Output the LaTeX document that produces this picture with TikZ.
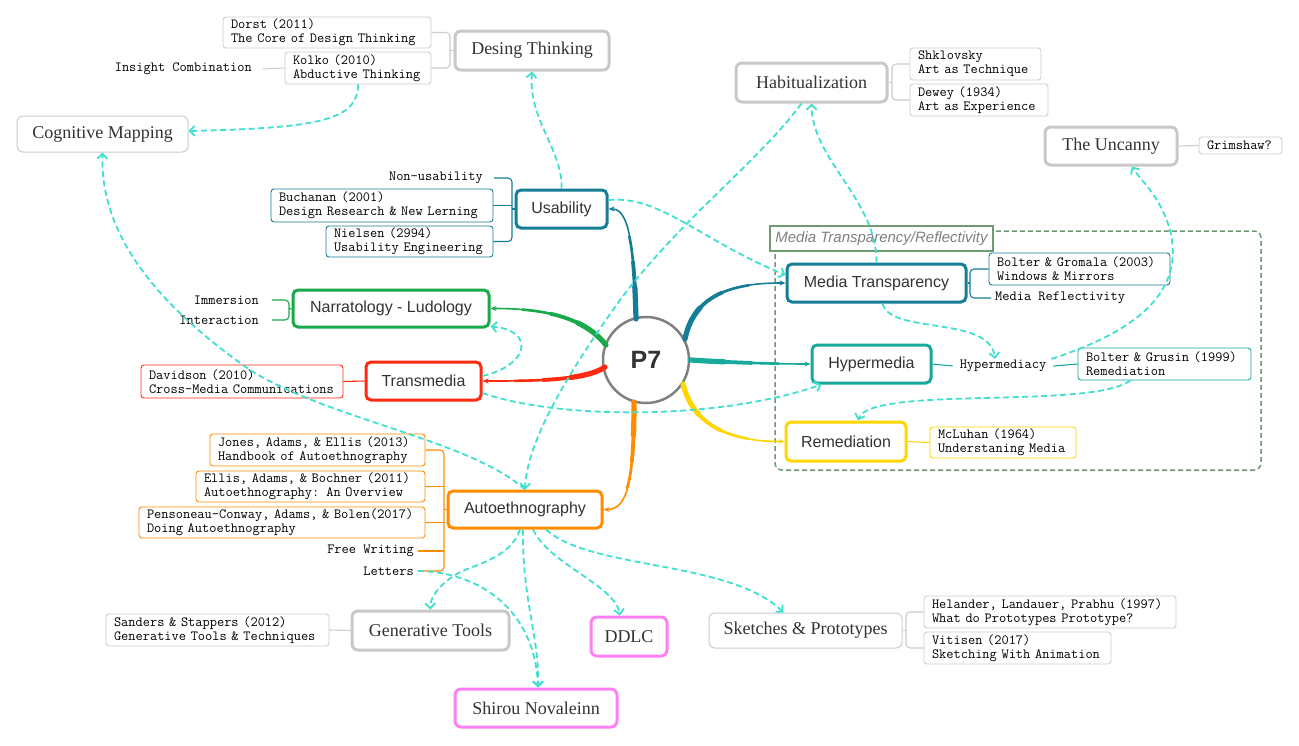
\documentclass[tikz,border=0pt]{standalone}
\usepackage{fontspec}
\setmainfont{Liberation Serif}
\newfontfamily\sansf{Liberation Sans}
\usetikzlibrary{arrows.meta}
\definecolor{tealc}{HTML}{167D96}
\definecolor{hypc}{HTML}{17A99B}
\definecolor{greenc}{HTML}{17A94A}
\definecolor{redc}{HTML}{FF2A0F}
\definecolor{orangec}{HTML}{FF8C00}
\definecolor{yellowc}{HTML}{FFD600}
\definecolor{magc}{HTML}{FF80F4}
\definecolor{gthick}{HTML}{C8C8C8}
\definecolor{gline}{HTML}{CCCCCC}
\definecolor{cyanc}{HTML}{40E0D0}
\definecolor{grpc}{HTML}{6E9A74}
\definecolor{p7c}{HTML}{808080}
\definecolor{txtc}{HTML}{333333}
\newcommand\fmono{\ttfamily\fontsize{14}{14}\selectfont}
\newcommand\fserif{\rmfamily\fontsize{18}{20}\selectfont}
\newcommand\fsans{\sansf\fontsize{16}{18}\selectfont}
\newcommand\twol[2]{\mbox{#1}\\\mbox{#2}}
% tapered connector: colour, path length, path
\newcommand\taper[3]{%
  \draw[#1, line width=1.6pt, -{Stealth[length=6pt,width=5pt]}] #3;
  \pgfmathsetmacro\tpa{0.72*#2}\pgfmathsetmacro\tpb{0.5*#2}\pgfmathsetmacro\tpc{0.28*#2}%
  \draw[#1, line width=2.6pt, line cap=round, dash pattern=on \tpa pt off 3000pt] #3;
  \draw[#1, line width=3.8pt, line cap=round, dash pattern=on \tpb pt off 3000pt] #3;
  \draw[#1, line width=5.2pt, line cap=round, dash pattern=on \tpc pt off 3000pt] #3;
}
\tikzset{
  topic/.style={draw, line width=3pt, rounded corners=5pt, fill=white, font=\fsans, text=txtc, inner sep=0pt},
  gtopic/.style={draw=gthick, line width=3pt, rounded corners=6pt, fill=white, font=\fserif, text=txtc, inner sep=0pt},
  thintopic/.style={draw=gline, line width=1pt, rounded corners=6pt, fill=white, font=\fserif, text=txtc, inner sep=0pt},
  ref/.style={draw, line width=0.9pt, rounded corners=3pt, font=\fmono, align=left, inner xsep=8pt, inner ysep=0pt, minimum height=31pt},
  lbl/.style={font=\fmono, inner sep=1pt},
  cy/.style={draw=cyanc, line width=1.8pt, dash pattern=on 6pt off 3.5pt, -{Straight Barb[length=5pt,width=10pt]}},
  brk/.style={line width=1.1pt, rounded corners=4pt},
}
\begin{document}
\begin{tikzpicture}[x=1pt,y=-1pt]
\useasboundingbox (0,0) rectangle (1299,745);
\fill[white] (0,0) rectangle (1299,745);

% group
\draw[grpc, line width=1.5pt, dash pattern=on 5pt off 3pt, rounded corners=7pt] (775,231) rectangle (1261,470);
\node[draw=grpc, line width=1.5pt, fill=white, minimum width=223pt, minimum height=25pt, inner sep=0pt,
      font=\sansf\itshape\fontsize{15}{17}\selectfont, text=p7c] (GRP) at (881.5,238.5) {Media Transparency/Reflectivity};

% central
\node[circle, draw=p7c, line width=2.5pt, minimum size=86pt, fill=white, inner sep=0pt,
      font=\sansf\bfseries\fontsize{25}{28}\selectfont, text=txtc] (P7) at (646,360) {P7};

% topics
\node[gtopic, minimum width=154pt, minimum height=39pt] (DT) at (532,50.5) {Desing Thinking};
\node[thintopic, minimum width=171pt, minimum height=36pt] (CM) at (102.5,134) {Cognitive Mapping};
\node[topic, draw=tealc, minimum width=91pt, minimum height=38pt] (U) at (561.5,209) {Usability};
\node[topic, draw=greenc, minimum width=196pt, minimum height=37pt] (N) at (391,308.5) {Narratology - Ludology};
\node[topic, draw=redc, minimum width=115pt, minimum height=38pt] (T) at (423.5,381) {Transmedia};
\node[gtopic, minimum width=151pt, minimum height=39pt] (Hab) at (811.5,82.5) {Habitualization};
\node[gtopic, minimum width=132pt, minimum height=38pt] (Unc) at (1111,146) {The Uncanny};
\node[topic, draw=tealc, minimum width=179pt, minimum height=38pt] (MT) at (876.5,283) {Media Transparency};
\node[topic, draw=hypc, minimum width=119pt, minimum height=38pt] (H) at (871.5,364) {Hypermedia};
\node[topic, draw=yellowc, minimum width=120pt, minimum height=39pt] (R) at (846,441.5) {Remediation};
\node[topic, draw=orangec, minimum width=154pt, minimum height=37pt] (A) at (525,509.5) {Autoethnography};
\node[gtopic, minimum width=157pt, minimum height=39pt] (GT) at (430.5,630.5) {Generative Tools};
\node[gtopic, draw=magc, minimum width=76pt, minimum height=39pt] (DDLC) at (629,636.5) {DDLC};
\node[gtopic, draw=magc, minimum width=162pt, minimum height=38pt] (S) at (536,708) {Shirou Novaleinn};
\node[thintopic, minimum width=193pt, minimum height=35pt] (SP) at (805.5,630.5) {Sketches \& Prototypes};

% references
\node[ref, draw=gline, text width=192pt] (Dorst) at (327,32.5) {\twol{Dorst (2011)}{The Core of Design Thinking}};
\node[ref, draw=gline, text width=130pt, minimum height=32pt] (Kolko) at (358,68) {\twol{Kolko (2010)}{Abductive Thinking}};
\node[lbl, anchor=east] (IC) at (253,69) {Insight Combination};
\node[lbl, anchor=east] (NU) at (484,178) {Non-usability};
\node[ref, draw=tealc, text width=206pt, minimum height=33pt] (Buch) at (382,205.5) {\twol{Buchanan (2001)}{Design Research \& New Lerning}};
\node[ref, draw=tealc, text width=151pt] (Niel) at (409.5,241.5) {\twol{Nielsen (2994)}{Usability Engineering}};
\node[lbl, anchor=east] (Imm) at (260,300) {Immersion};
\node[lbl, anchor=east] (Int) at (260,320) {Interaction};
\node[ref, draw=redc, text width=186pt, minimum height=33pt] (Dav) at (242,381.5) {\twol{Davidson (2010)}{Cross-Media Communications}};
\node[ref, draw=gline, text width=115pt, minimum height=32pt] (Shk) at (975.5,64) {\twol{Shklovsky}{Art as Technique}};
\node[ref, draw=gline, text width=122pt, minimum height=32pt] (Dew) at (979,100) {\twol{Dewey (1934)}{Art as Experience}};
\node[ref, draw=gline, text width=67pt, minimum height=17pt] (Grim) at (1240.5,145.5) {\mbox{Grimshaw?}};
\node[ref, draw=tealc, text width=165pt, minimum height=32pt] (Grom) at (1079.5,269) {\twol{Bolter \& Gromala (2003)}{Windows \& Mirrors}};
\node[lbl, anchor=west] (MR) at (994,298) {Media Reflectivity};
\node[lbl] (Hmacy) at (1003,366) {Hypermediacy};
\node[ref, draw=hypc, text width=157pt, minimum height=32pt] (Grus) at (1164.5,364) {\twol{Bolter \& Grusin (1999)}{Remediation}};
\node[ref, draw=yellowc, text width=130pt] (McL) at (1003,442.5) {\twol{McLuhan (1964)}{Understaning Media}};
\node[ref, draw=orangec, text width=199pt, minimum height=32pt] (Jones) at (317.5,450) {\twol{Jones, Adams, \& Ellis (2013)}{Handbook of Autoethnography}};
\node[ref, draw=orangec, text width=213pt] (Ellis) at (310.5,486.5) {\twol{Ellis, Adams, \& Bochner (2011)}{Autoethnography: An Overview}};
\node[ref, draw=orangec, text width=270pt] (Pens) at (282,522.5) {\twol{Pensoneau-Conway, Adams, \& Bolen(2017)}{Doing Autoethnography}};
\node[lbl, anchor=east] (FW) at (415,551) {Free Writing};
\node[lbl, anchor=east] (Let) at (415,571) {Letters};
\node[ref, draw=gline, text width=207pt, minimum height=32pt] (Sand) at (217.5,630) {\twol{Sanders \& Stappers (2012)}{Generative Tools \& Techniques}};
\node[ref, draw=gline, text width=236pt, minimum height=32pt] (Hel) at (1050,612) {\twol{Helander, Landauer, Prabhu (1997)}{What do Prototypes Prototype?}};
\node[ref, draw=gline, text width=171pt, minimum height=32pt] (Vit) at (1017.5,648) {\twol{Vitisen (2017)}{Sketching With Animation}};

% brackets
\draw[brk, gline] (DT.west) -- (450,50.5);
\draw[brk, gline] (Dorst.east) -- (450,32.5) -- (450,68) -- (Kolko.east);
\draw[gline, line width=1pt] ([xshift=10pt]IC.east) -- (Kolko.west);
\draw[brk, tealc] ([xshift=10pt]NU.east) -- (512,178) -- (512,241.5) -- (Niel.east);
\draw[brk, tealc] (Buch.east) -- (512,205.5);
\draw[brk, tealc] (512,209) -- (U.west);
\draw[brk, greenc] ([xshift=12pt]Imm.east) -- (289,300) -- (289,320) -- ([xshift=12pt]Int.east);
\draw[brk, greenc] (289,309) -- (N.west);
\draw[brk, redc] (Dav.east) -- (T.west);
\draw[brk, gline] (Shk.west) -- (892,64) -- (892,100) -- (Dew.west);
\draw[brk, gline] (Hab.east) -- (892,82.5);
\draw[brk, gline] (Unc.east) -- (Grim.west);
\draw[brk, tealc] (Grom.west) -- (970,269) -- (970,298) -- ([xshift=-3pt]MR.west);
\draw[brk, tealc] (MT.east) -- (970,283);
\draw[brk, hypc] (H.east) -- ([xshift=-6pt]Hmacy.west);
\draw[brk, hypc] ([xshift=6pt]Hmacy.east) -- (Grus.west);
\draw[brk, yellowc] (R.east) -- (McL.west);
\draw[brk, orangec] (Jones.east) -- (444,450) -- (444,571) -- ([xshift=3pt]Let.east);
\draw[brk, orangec] (Ellis.east) -- (444,486.5);
\draw[brk, orangec] (Pens.east) -- (444,522.5);
\draw[brk, orangec] ([xshift=3pt]FW.east) -- (444,551);
\draw[brk, orangec] (444,509.5) -- (A.west);
\draw[brk, gline] (Sand.east) -- (GT.west);
\draw[brk, gline] (Hel.west) -- (906,612) -- (906,648) -- (Vit.west);
\draw[brk, gline] (SP.east) -- (906,630.5);

% main coloured connectors (tapered)
\coordinate (pu) at (636,319);
\coordinate (pm) at (685,339);
\coordinate (pr) at (683,384);
\coordinate (pa) at (634,402);
\coordinate (pn) at (606,345);
\coordinate (pt) at (605,367);
\taper{tealc}{115}{(pu) .. controls (634,240) and (628,209) .. (U.east)}
\taper{tealc}{125}{(pm) .. controls (695,290) and (740,283) .. (MT.west)}
\taper{hypc}{123}{(P7.east) .. controls (720,362) and (770,364) .. (H.west)}
\taper{yellowc}{125}{(pr) .. controls (695,432) and (740,441.5) .. (R.west)}
\taper{orangec}{120}{(pa) .. controls (634,480) and (628,509.5) .. (A.east)}
\taper{greenc}{130}{(pn) .. controls (580,312) and (530,308.5) .. (N.east)}
\taper{redc}{128}{(pt) .. controls (585,381) and (530,381) .. (T.east)}

% dashed cyan connectors
\draw[cy] (U.north) .. controls (563,150) and (528,120) .. (DT.south);
\draw[cy] (Kolko.south) .. controls (358,120) and (320,128) .. ([yshift=3pt]CM.east);
\draw[cy] ([yshift=9pt]U.east) .. controls (660,195) and (700,240) .. ([yshift=8pt]MT.west);
\draw[cy] ([xshift=-10pt]Hab.south) .. controls (760,160) and (680,220) .. (620,300) .. controls (570,370) and (527,440) .. (A.north);
\draw[cy] (A.north) .. controls (470,440) and (330,420) .. (250,370) .. controls (150,300) and (100,230) .. (CM.south);
\draw[cy] (MT.north) .. controls (877,200) and (812,160) .. (Hab.south);
\draw[cy] ([xshift=6pt]MT.south) .. controls (890,335) and (990,315) .. ([xshift=-8pt]Hmacy.north);
\draw[cy] ([xshift=4pt]Hmacy.north east) .. controls (1140,330) and (1185,290) .. (1170,230) .. controls (1160,195) and (1140,180) .. ([xshift=21pt]Unc.south);
\draw[cy] ([xshift=-34pt]Grus.south) .. controls (1090,410) and (870,385) .. ([xshift=12pt]R.north);
\draw[cy] ([yshift=5pt]T.east) .. controls (530,365) and (535,330) .. ([yshift=2pt]N.south east);
\draw[cy] ([yshift=-12pt]T.east) .. controls (560,420) and (720,420) .. ([xshift=-50pt]H.south);
\draw[cy] ([xshift=-5pt]A.south) .. controls (510,560) and (470,565) .. (455,575) .. controls (435,588) and (430,600) .. (GT.north);
\draw[cy] ([xshift=-2pt]A.south) .. controls (522,600) and (540,640) .. ([xshift=2pt]S.north);
\draw[cy] ([xshift=3pt]Let.east) .. controls (480,572) and (535,610) .. ([xshift=2pt]S.north);
\draw[cy] ([xshift=8pt]A.south) .. controls (550,565) and (615,585) .. ([xshift=-9pt]DDLC.north);
\draw[cy] ([xshift=21pt]A.south) .. controls (590,570) and (730,560) .. ([xshift=-22pt]SP.north);
\end{tikzpicture}
\end{document}
